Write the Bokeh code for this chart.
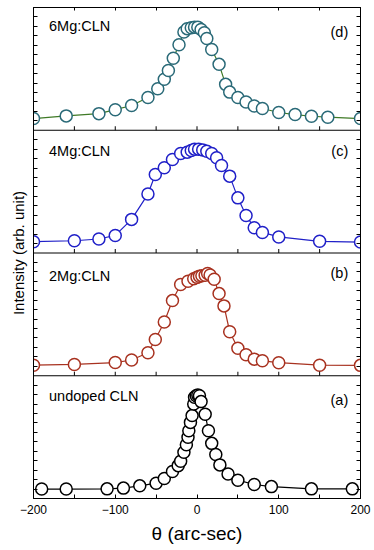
import numpy as np
from bokeh.plotting import figure
from bokeh.models import FixedTicker, LinearAxis, Range1d, Label, Span, Title
from bokeh.embed import file_html
from bokeh.resources import INLINE

# ---------------- data ----------------
theta_d = [-200, -160, -120, -100, -80, -60, -48, -40, -35, -29, -22, -16, -12, -7, -3, 1, 5, 9, 12, 18,
           27, 35, 40, 50, 60, 70, 80, 100, 120, 140, 160, 200]
int_d = [0.12, 0.26, 0.38, 0.59, 0.81, 1.23, 1.70, 2.20, 2.66, 3.31, 4.03, 4.70, 4.88, 4.93, 4.96, 4.96,
         4.84, 4.66, 4.36, 3.78, 2.99, 1.93, 1.52, 1.23, 1.00, 0.78, 0.65, 0.44, 0.33, 0.24, 0.19, 0.12]

theta_c = [-200, -150, -120, -100, -80, -60, -51, -40, -30, -20, -12, -7, -3, 2, 7, 12, 18, 24, 30, 40,
           50, 60, 70, 80, 100, 150, 200]
int_c = [0.10, 0.15, 0.24, 0.43, 1.28, 2.62, 3.66, 4.01, 4.45, 4.77, 4.84, 4.93, 5.00, 5.00, 4.96, 4.89,
         4.77, 4.54, 4.13, 3.57, 2.42, 1.49, 0.84, 0.59, 0.35, 0.12, 0.08]

theta_b = [-200, -150, -100, -80, -60, -51, -40, -30, -20, -11, -4, 0, 3, 6, 10, 13, 16, 21, 27, 33,
           40, 50, 60, 70, 80, 100, 150, 200]
int_b = [0.06, 0.10, 0.20, 0.33, 0.72, 1.42, 2.35, 3.48, 4.33, 4.50, 4.64, 4.71, 4.77, 4.80, 4.82, 4.91,
         4.84, 4.61, 3.85, 3.20, 1.83, 0.96, 0.61, 0.38, 0.29, 0.19, 0.06, 0.05]

theta_a = [-190, -160, -110, -90, -70, -50, -40, -30, -23, -20, -16, -13, -11, -10, -8, -6, -4, -3, -1, 1,
           3, 5, 10, 14, 18, 23, 28, 38, 50, 70, 91, 140, 190]
int_a = [0.00, 0.00, 0.01, 0.05, 0.17, 0.31, 0.56, 0.93, 1.24, 1.47, 1.95, 2.35, 2.74, 3.09, 3.53, 3.89,
         4.50, 4.86, 4.94, 4.98, 4.94, 4.63, 3.96, 3.09, 2.42, 1.83, 1.28, 0.80, 0.47, 0.24, 0.13, 0.01, 0.01]

sample_names = ["undoped CLN", "2Mg:CLN", "4Mg:CLN", "6Mg:CLN"]
panel_tags = ["(a)", "(b)", "(c)", "(d)"]
x_major_ticks = [-200, -100, 0, 100, 200]
x_minor_ticks = [-150, -50, 50, 150]
panel_y_ticks = [0, 0.5, 1, 1.5, 2, 2.5, 3, 3.5, 4, 4.5, 5, 5.5]
x_title = "\u03b8 (arc-sec)"
y_title = "Intensity (arb. unit)"

# ---------------- style / layout ----------------
FONT = "Liberation Sans"
line_colors = ["#000000", "#a83220", "#2020c8", "#3f7a26"]
marker_colors = ["#000000", "#a83220", "#2020c8", "#2a6a78"]
name_y = [4.94, 4.8, 4.92, 5.0]
tag_y = [4.73, 4.96, 4.9, 4.68]
PANEL_SPAN = 6.5      # height of one panel in y units
PANEL_BASE = 0.5      # position of the panel's zero inside it
TICK_LEN = 4          # px
FRAME_W, FRAME_H = 327, 491

series = [(theta_a, int_a), (theta_b, int_b), (theta_c, int_c), (theta_d, int_d)]
n = len(series)

p = figure(frame_width=FRAME_W, frame_height=FRAME_H,
           x_range=Range1d(-200, 200), y_range=Range1d(0, PANEL_SPAN * n),
           output_backend="svg", toolbar_location=None,
           min_border_left=33, min_border_right=12, min_border_top=7, min_border_bottom=50)
p.xgrid.visible = False
p.ygrid.visible = False
p.outline_line_color = "black"
p.outline_line_width = 1
p.background_fill_color = "white"
p.border_fill_color = "white"

unit_px = FRAME_H / (PANEL_SPAN * n)
tick_len_units = TICK_LEN / unit_px

y_ticks_all = []
for k, (tx, iy) in enumerate(series):
    off = PANEL_SPAN * k + PANEL_BASE
    ys = [v + off for v in iy]
    p.line(tx, ys, line_color=line_colors[k], line_width=1.2)
    p.scatter(tx, ys, size=12, marker="circle", fill_color="white",
              line_color=marker_colors[k], line_width=1.5)
    y_ticks_all += [t + off for t in panel_y_ticks]
    p.add_layout(Label(x=-181, y=name_y[k] + off, text=sample_names[k], text_font=FONT,
                       text_font_size="14.5px", text_baseline="middle", text_align="left",
                       text_color="black"))
    p.add_layout(Label(x=185, y=tag_y[k] + off, text=panel_tags[k], text_font=FONT,
                       text_font_size="14.5px", text_baseline="middle", text_align="right",
                       text_color="black"))
    if k > 0:
        base = PANEL_SPAN * k
        p.add_layout(Span(location=base, dimension="width", line_color="black", line_width=1))
        inner = [t for t in sorted(x_major_ticks + x_minor_ticks) if -200 < t < 200]
        p.segment(x0=inner, y0=[base] * len(inner), x1=inner,
                  y1=[base + tick_len_units] * len(inner), line_color="black", line_width=1)

# bottom axis
xa = p.xaxis[0]
xa.ticker = FixedTicker(ticks=x_major_ticks, minor_ticks=x_minor_ticks)
xa.major_tick_in = TICK_LEN
xa.major_tick_out = 0
xa.minor_tick_in = TICK_LEN
xa.minor_tick_out = 0
xa.axis_line_color = "black"
xa.major_label_text_font = FONT
xa.major_label_text_font_size = "12px"
xa.major_label_text_color = "black"
xa.major_label_standoff = 6
xa.axis_label = x_title
xa.axis_label_text_font = FONT
xa.axis_label_text_font_size = "19px"
xa.axis_label_text_font_style = "normal"
xa.axis_label_text_color = "black"
xa.axis_label_standoff = 6

# top axis: ticks only
ta = LinearAxis(ticker=FixedTicker(ticks=[], minor_ticks=x_major_ticks + x_minor_ticks))
p.add_layout(ta, "above")

# left and right axes: ticks only
ya = p.yaxis[0]
ra = LinearAxis()
p.add_layout(ra, "right")
for ax in (ya, ra):
    ax.ticker = FixedTicker(ticks=[], minor_ticks=y_ticks_all)

for ax in (ta, ya, ra):
    ax.minor_tick_in = TICK_LEN
    ax.minor_tick_out = 0
    ax.major_tick_in = TICK_LEN
    ax.major_tick_out = 0
    ax.axis_line_color = "black"
ta.minor_tick_in = 3

p.add_layout(Title(text=y_title, align="center", offset=5, text_font=FONT,
                   text_font_size="15px", text_font_style="normal", text_color="black",
                   standoff=14), "left")

open("out.html", "w").write(file_html(p, INLINE))
